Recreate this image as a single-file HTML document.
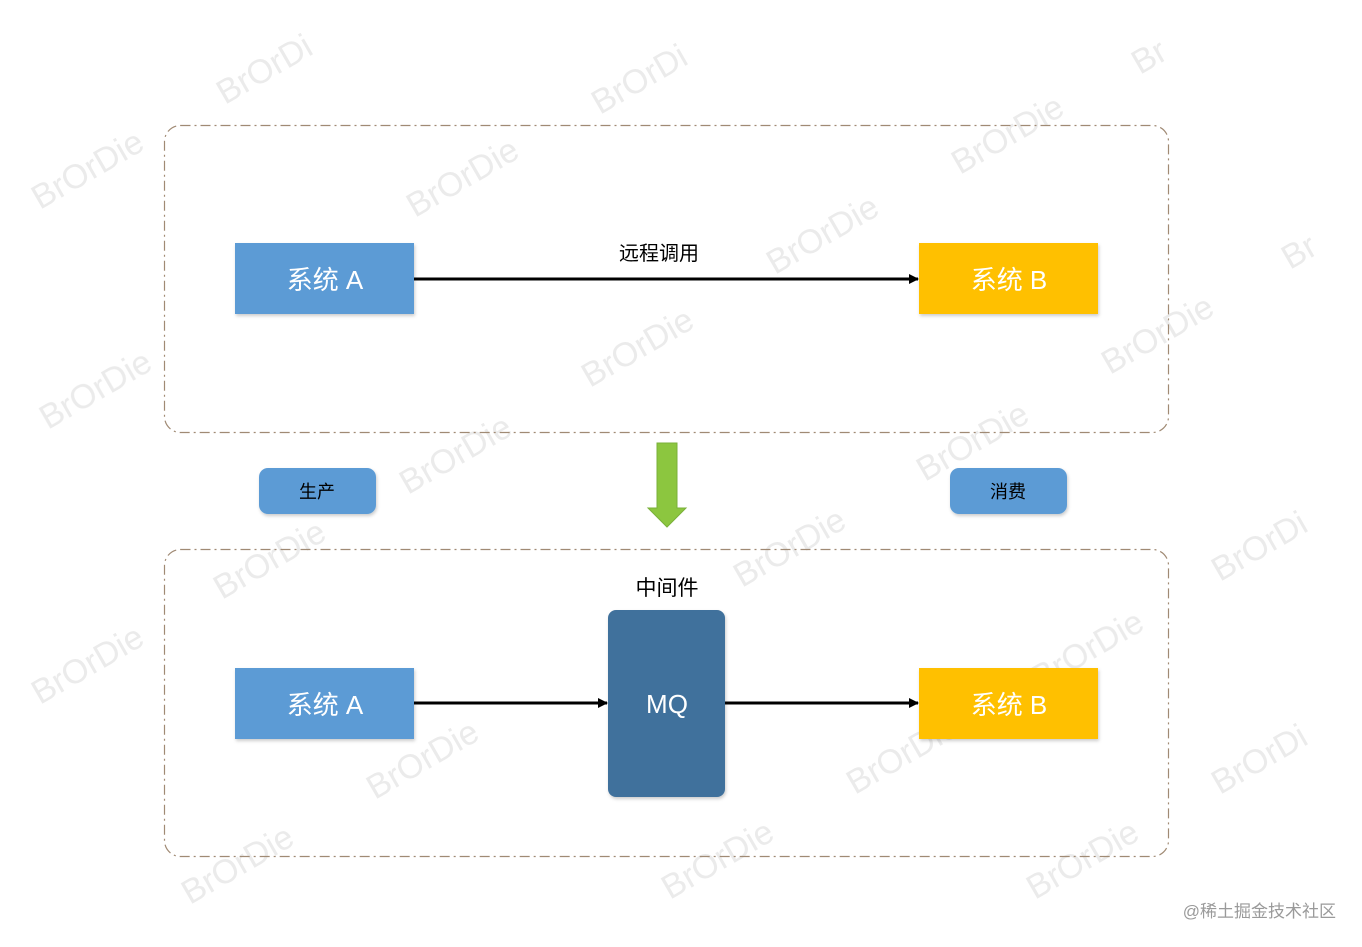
<!DOCTYPE html>
<html><head><meta charset="utf-8"><style>
html,body{margin:0;padding:0;background:#fff;}
svg{display:block;font-family:"Liberation Sans","Noto Sans CJK SC",sans-serif;}
</style></head><body>
<svg width="1362" height="947" viewBox="0 0 1362 947" xmlns="http://www.w3.org/2000/svg">
<defs>
<marker id="ah" markerWidth="10" markerHeight="10" refX="9" refY="5" orient="auto" markerUnits="userSpaceOnUse"><path d="M0,0 L10,5 L0,10 z" fill="#000"/></marker>
<filter id="sh" x="-10%" y="-10%" width="130%" height="130%"><feDropShadow dx="1" dy="2" stdDeviation="1.5" flood-color="#000" flood-opacity="0.2"/></filter>
</defs>
<g fill="#e6e6e6" font-size="34" opacity="0.8">
<text transform="translate(225,105) rotate(-30)">BrOrDi</text>
<text transform="translate(600,115) rotate(-30)">BrOrDi</text>
<text transform="translate(1140,75) rotate(-30)">Br</text>
<text transform="translate(40,210) rotate(-30)">BrOrDie</text>
<text transform="translate(415,218) rotate(-30)">BrOrDie</text>
<text transform="translate(960,175) rotate(-30)">BrOrDie</text>
<text transform="translate(775,275) rotate(-30)">BrOrDie</text>
<text transform="translate(1290,270) rotate(-30)">Br</text>
<text transform="translate(48,430) rotate(-30)">BrOrDie</text>
<text transform="translate(590,388) rotate(-30)">BrOrDie</text>
<text transform="translate(1110,375) rotate(-30)">BrOrDie</text>
<text transform="translate(408,495) rotate(-30)">BrOrDie</text>
<text transform="translate(925,482) rotate(-30)">BrOrDie</text>
<text transform="translate(222,600) rotate(-30)">BrOrDie</text>
<text transform="translate(742,588) rotate(-30)">BrOrDie</text>
<text transform="translate(1220,582) rotate(-30)">BrOrDi</text>
<text transform="translate(40,705) rotate(-30)">BrOrDie</text>
<text transform="translate(1040,690) rotate(-30)">BrOrDie</text>
<text transform="translate(375,800) rotate(-30)">BrOrDie</text>
<text transform="translate(855,795) rotate(-30)">BrOrDie</text>
<text transform="translate(1220,795) rotate(-30)">BrOrDi</text>
<text transform="translate(190,905) rotate(-30)">BrOrDie</text>
<text transform="translate(670,900) rotate(-30)">BrOrDie</text>
<text transform="translate(1035,900) rotate(-30)">BrOrDie</text>
</g>
<rect x="164.5" y="125.5" width="1004" height="307" rx="16" fill="none" stroke="#a08a74" stroke-width="1.2" stroke-dasharray="10,4,2,4"/>
<rect x="164.5" y="549.5" width="1004" height="307" rx="16" fill="none" stroke="#a08a74" stroke-width="1.2" stroke-dasharray="10,4,2,4"/>

<rect x="235" y="243" width="179" height="71" fill="#5b9bd5" filter="url(#sh)"/>
<text x="325" y="289" text-anchor="middle" fill="#fff" font-size="26">系统 A</text>
<rect x="919" y="243" width="179" height="71" fill="#ffc000" filter="url(#sh)"/>
<text x="1009" y="289" text-anchor="middle" fill="#fff" font-size="26">系统 B</text>
<line x1="414" y1="279" x2="918" y2="279" stroke="#000" stroke-width="3" marker-end="url(#ah)"/>
<text x="659" y="260" text-anchor="middle" fill="#000" font-size="20">远程调用</text>

<rect x="259" y="468" width="117" height="46" rx="9" fill="#5b9bd5" filter="url(#sh)"/>
<text x="317" y="498" text-anchor="middle" fill="#000" font-size="18">生产</text>
<rect x="950" y="468" width="117" height="46" rx="9" fill="#5b9bd5" filter="url(#sh)"/>
<text x="1008" y="498" text-anchor="middle" fill="#000" font-size="18">消费</text>

<path d="M657,443 L677,443 L677,508 L686,508 L667,527 L648,508 L657,508 z" fill="#8cc63f" stroke="#7ab03a" stroke-width="1"/>

<text x="667" y="595" text-anchor="middle" fill="#000" font-size="21">中间件</text>
<rect x="235" y="668" width="179" height="71" fill="#5b9bd5" filter="url(#sh)"/>
<text x="325" y="714" text-anchor="middle" fill="#fff" font-size="26">系统 A</text>
<rect x="608" y="610" width="117" height="187" rx="8" fill="#41719c" filter="url(#sh)"/>
<text x="667" y="713" text-anchor="middle" fill="#fff" font-size="26">MQ</text>
<rect x="919" y="668" width="179" height="71" fill="#ffc000" filter="url(#sh)"/>
<text x="1009" y="714" text-anchor="middle" fill="#fff" font-size="26">系统 B</text>
<line x1="414" y1="703" x2="607" y2="703" stroke="#000" stroke-width="3" marker-end="url(#ah)"/>
<line x1="725" y1="703" x2="918" y2="703" stroke="#000" stroke-width="3" marker-end="url(#ah)"/>

<text x="1336" y="917" text-anchor="end" fill="#9a9a9a" font-size="17">@稀土掘金技术社区</text>
</svg>
</body></html>
